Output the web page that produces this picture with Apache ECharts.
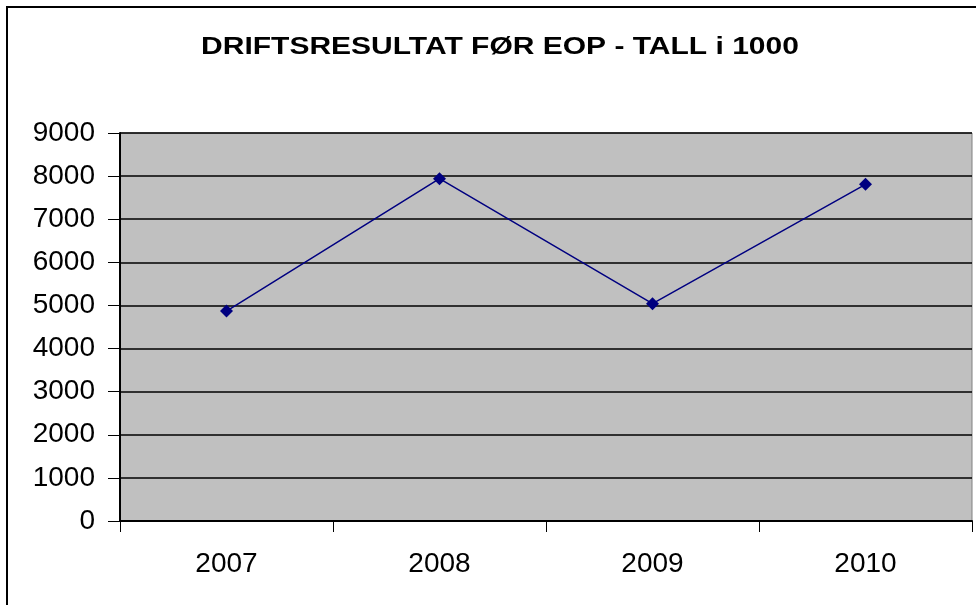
<!DOCTYPE html>
<html>
<head>
<meta charset="utf-8">
<script src="https://cdn.jsdelivr.net/npm/echarts@6/dist/echarts.min.js"></script>
<style>
  html, body { margin: 0; padding: 0; background: #fff; }
  #chart { width: 976px; height: 605px; }
</style>
</head>
<body>
<div id="chart"></div>
<script>
// data
const years = ['2007', '2008', '2009', '2010']
const result = [4870, 7940, 5040, 7810]
const yTicks = [0, 1000, 2000, 3000, 4000, 5000, 6000, 7000, 8000, 9000]

const chart = echarts.init(document.getElementById('chart'))

const option = {
  animation: false,
  backgroundColor: '#ffffff',
  graphic: [
    {
      // outer chart frame
      type: 'rect',
      shape: { x: 7, y: 7, width: 1000, height: 700 },
      style: { fill: 'none', stroke: '#000', lineWidth: 2 },
      silent: true
    },
    {
      // title, the original font is a bit wider than Arial
      type: 'text',
      x: 500,
      y: 47,
      scaleX: 1.25,
      style: {
        text: 'DRIFTSRESULTAT FØR EOP - TALL i 1000',
        font: 'bold 24px "Liberation Sans"',
        fill: '#000',
        textAlign: 'center',
        textVerticalAlign: 'middle'
      },
      silent: true
    }
  ],
  grid: {
    left: 120,
    right: 4,
    top: 133,
    bottom: 84,
    show: true,
    backgroundColor: '#c0c0c0',
    borderColor: '#808080',
    borderWidth: 1
  },
  xAxis: {
    type: 'category',
    data: years,
    boundaryGap: true,
    axisLine: { show: true, lineStyle: { color: '#000', width: 2 } },
    axisTick: { show: true, inside: false, length: 11, lineStyle: { color: '#000', width: 1 } },
    axisLabel: {
      margin: 29,
      fontFamily: 'Liberation Sans',
      fontSize: 28,
      color: '#000'
    },
    splitLine: { show: false }
  },
  yAxis: {
    type: 'value',
    min: yTicks[0],
    max: yTicks[yTicks.length - 1],
    interval: 1000,
    axisLine: { show: true, lineStyle: { color: '#000', width: 2 } },
    axisTick: { show: true, inside: false, length: 12, lineStyle: { color: '#000', width: 1 } },
    axisLabel: {
      margin: 25,
      fontFamily: 'Liberation Sans',
      fontSize: 28,
      color: '#000',
      formatter: (v) => String(v)
    },
    splitLine: { show: true, lineStyle: { color: '#000', width: 1.5 } }
  },
  series: [
    {
      type: 'line',
      data: result,
      symbol: 'diamond',
      symbolSize: 13,
      itemStyle: { color: '#000080' },
      lineStyle: { color: '#000080', width: 1.5 }
    }
  ]
}

chart.setOption(option)
</script>
</body>
</html>
